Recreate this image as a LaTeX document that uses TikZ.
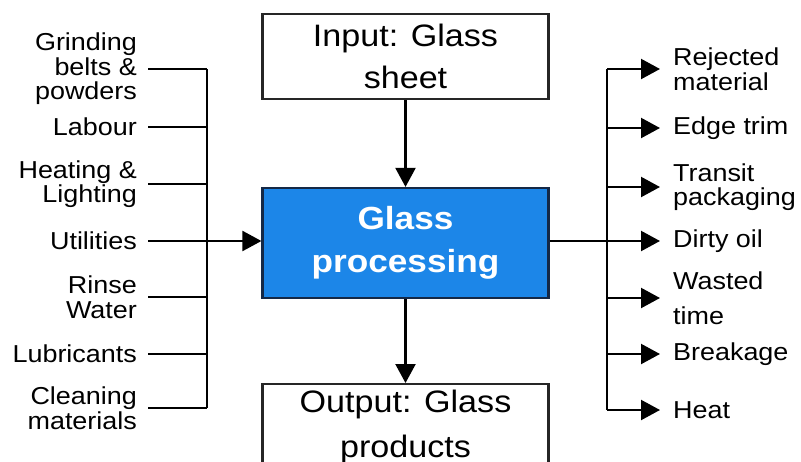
\documentclass[tikz,border=0pt]{standalone}
\usepackage{fontspec}
\setmainfont{Liberation Sans}[FakeStretch=1.1]
\usetikzlibrary{arrows.meta}
\definecolor{procblue}{RGB}{28,134,232}
\definecolor{procedge}{RGB}{20,40,70}
\begin{document}
\begin{tikzpicture}[x=1pt,y=-1pt,
  line width=2.2pt,
  arr/.style={-{Triangle[length=19pt,width=20pt]}},
  lblL/.style={anchor=east,align=right,inner ysep=0pt,inner xsep=10pt,font=\fontsize{24.5}{24.5}\selectfont},
  lblR/.style={anchor=west,align=left,inner ysep=0pt,inner xsep=12pt,font=\fontsize{24.5}{24.5}\selectfont},
  box/.style={draw=black!85,line width=2.2pt,minimum width=286pt,align=center,font=\fontsize{31}{42}\selectfont},
]
\useasboundingbox (0,0) rectangle (801,461);
\fill[white] (0,0) rectangle (801,461);
\clip (0,0) rectangle (801,461);

\node[box,minimum height=85pt] (in) at (405.5,56.5) {Input: Glass\\sheet};
\node[box,minimum height=110pt,fill=procblue,draw=procedge,text=white,font=\fontsize{32}{43}\selectfont\bfseries] (proc) at (405.5,243) {Glass\\processing};
\node[box,minimum height=110pt,anchor=north] (out) at (405.5,383) {};
\node[font=\fontsize{31}{45}\selectfont,align=center,anchor=north,inner sep=0pt] (outt) at (405.5,389) {Output: Glass\\products};

\coordinate (busL) at (207,0);
\coordinate (busR) at (607,0);

\node[lblL] (g) at (148,69) {Grinding\\belts \&\\powders};
\node[lblL] (l) at (148,127) {Labour};
\node[lblL] (h) at (148,184) {Heating \&\\Lighting};
\node[lblL] (u) at (148,241) {Utilities};
\node[lblL] (r) at (148,297) {Rinse\\Water};
\node[lblL] (lu) at (148,354) {Lubricants};
\node[lblL] (c) at (148,408) {Cleaning\\materials};

\foreach \n in {g,l,h,u,r,lu,c} \draw (\n.east) -- (\n.east -| busL);
\draw (g.east -| busL) -- (c.east -| busL);
\draw[arr] (u.east -| busL) -- (u.east -| proc.west);

\node[lblR] (rj) at (660,69) {Rejected\\material};
\node[lblR] (e) at (660,128) {Edge trim};
\node[lblR] (t) at (660,187) {Transit\\packaging};
\node[lblR] (d) at (660,241) {Dirty oil};
\node[lblR] (w) at (660,298) {Wasted\\[10pt]time};
\node[lblR] (b) at (660,354) {Breakage};
\node[lblR] (ht) at (660,410) {Heat};

\draw (d.west -| proc.east) -- (d.west -| busR);
\draw (rj.west -| busR) -- (ht.west -| busR);
\foreach \n in {rj,e,t,d,w,b,ht} \draw[arr] (\n.west -| busR) -- (\n.west);

\draw[arr] (in.south) -- (proc.north);
\draw[arr] (proc.south) -- (out.north);
\end{tikzpicture}
\end{document}
